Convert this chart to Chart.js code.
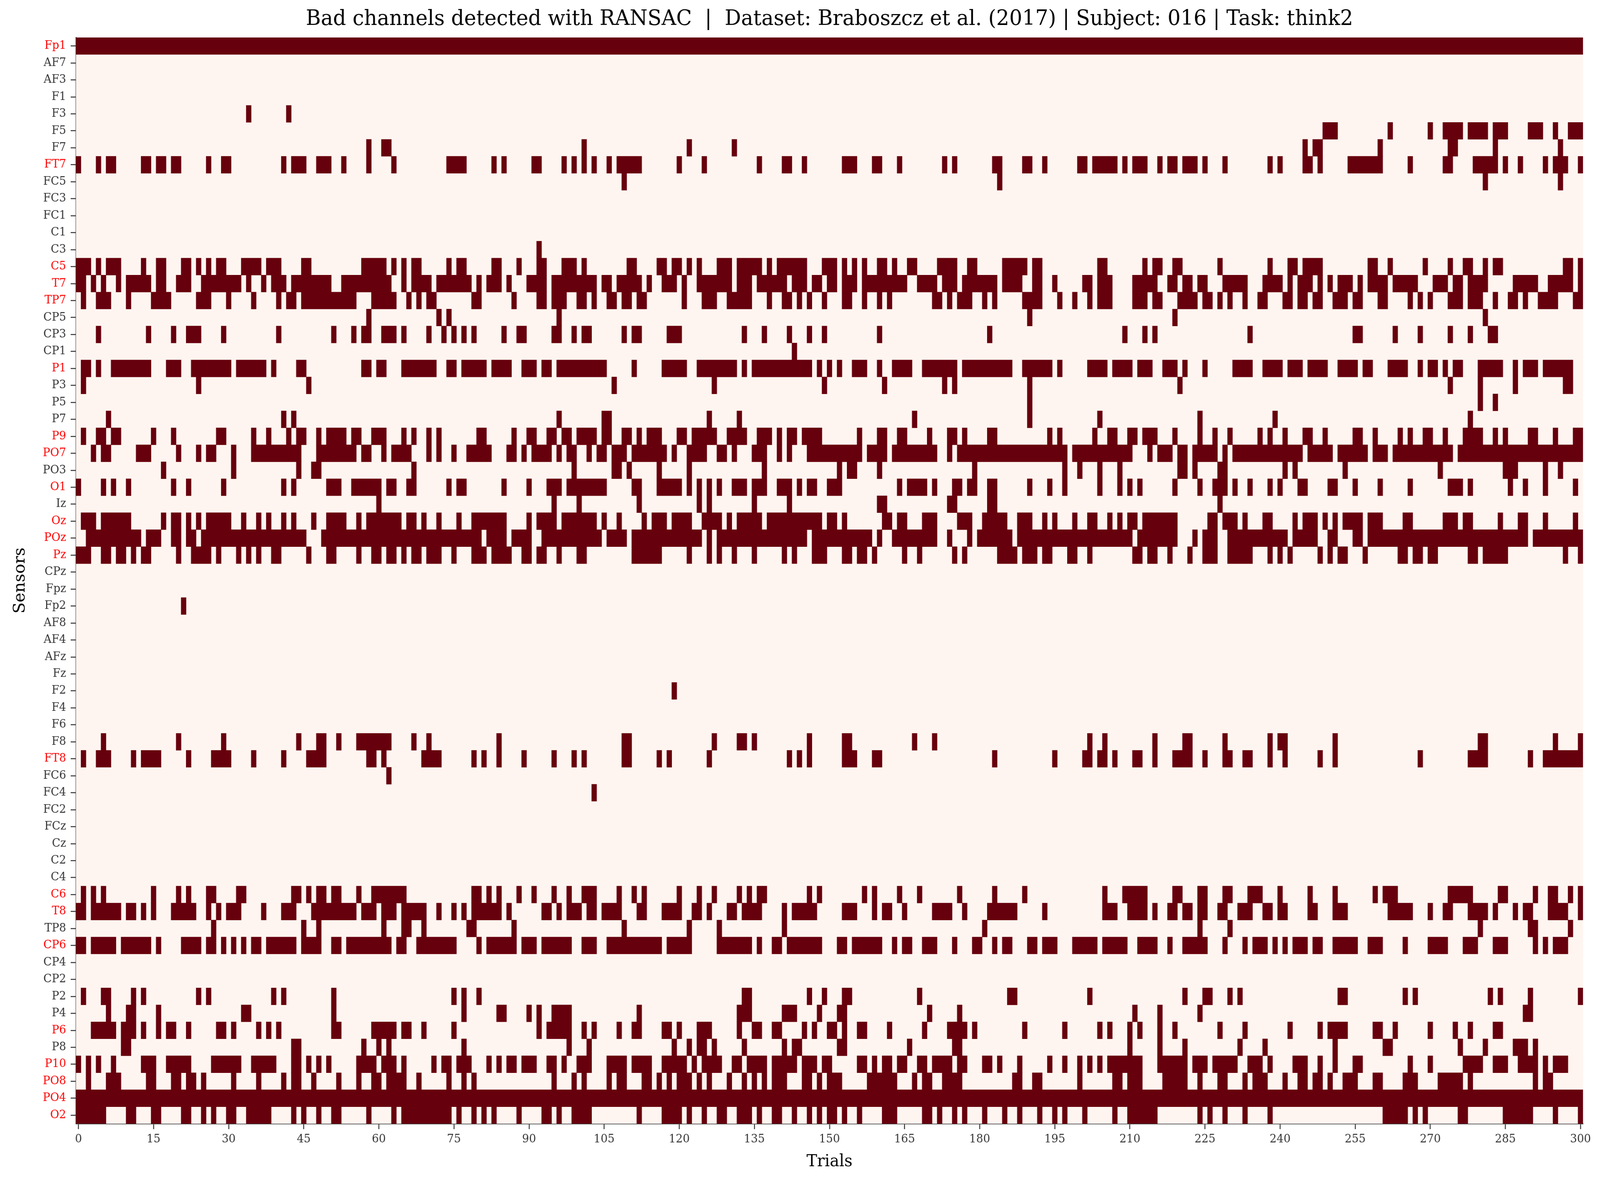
<!DOCTYPE html>
<html>
<head>
<meta charset="utf-8">
<script src="https://cdn.jsdelivr.net/npm/chart.js"></script>
<style>
  html, body { margin: 0; padding: 0; background: #ffffff; overflow: hidden; }
  canvas { display: block; }
</style>
</head>
<body>
<canvas id="badChart" width="4234" height="3034" style="width:100vw;height:100vh"></canvas>
<script>
// sensors, top to bottom
const sensors = ['Fp1','AF7','AF3','F1','F3','F5','F7','FT7','FC5','FC3','FC1','C1','C3','C5','T7','TP7',
  'CP5','CP3','CP1','P1','P3','P5','P7','P9','PO7','PO3','O1','Iz','Oz','POz','Pz','CPz',
  'Fpz','Fp2','AF8','AF4','AFz','Fz','F2','F4','F6','F8','FT8','FC6','FC4','FC2','FCz','Cz',
  'C2','C4','C6','T8','TP8','CP6','CP4','CP2','P2','P4','P6','P8','P10','PO8','PO4','O2'];

// channels marked bad (red tick labels)
const flaggedSensors = ['Fp1','FT7','C5','T7','TP7','P1','P9','PO7','O1','Oz','POz','Pz',
  'FT8','C6','T8','CP6','P6','P10','PO8','PO4','O2'];

// trials flagged bad for each sensor, same order as sensors ("a-b" = run of trials)
const badTrialRuns = [
  '0-300',                                   // Fp1
  '', '', '',                                // AF7 AF3 F1
  '34 42',                                   // F3
  '249-251 262 270 273-276 278-281 283-285 290-292 295 298-300', // F5
  '58 61-62 101 122 131 245 247-248 260 274-275 283 296',         // F7
  '0 4 6-7 13-14 16-17 19-20 26 29-30 41 43-45 48-50 53 58 63 74-77 83 85 91-92 97 99 101 103 106 108-112 120 125 136 141-142 145 153-155 159-160 164 173 175 183-184 189-190 193 200-201 203-207 209 211-213 216 218-219 221-223 225 229 238 240 245-246 248 254-260 266 273-274 279-283 285 288 293 295-297 300', // FT7
  '109 184 281 296',                         // FC5
  '', '', '',                                // FC3 FC1 C1
  '92',                                      // C3
  '0-2 4 6-8 13 16-17 21-22 24 26 28-29 33-36 38-40 45-46 57-61 63 65 67-68 74 76-77 83-84 88 92-93 97-99 101 110-111 116-117 119-120 122 124 128-130 132-136 138 140-145 149-151 153 155 157 160-161 163 166-167 172-175 178-179 185-189 191-192 204-205 213 215-216 219-220 228 238 242-243 245-248 258-259 262 269 274 277-278 281 283-284 297-298 300', // C5
  '0-1 3 5 8 10-14 16-17 20-22 25-32 34 37 39-41 43-50 53-62 65 67-70 72-78 80 82-84 86 90-93 95-103 105-106 108-112 114 117-119 121 124-130 132-134 136-141 143-145 147-148 150-151 153-155 157-165 168-171 173-175 177-183 185-188 191-192 195 201-202 204-206 211-215 218-219 221-222 224-225 229-233 237-240 242 244-246 248 250 252-254 256 258-261 263-267 271-273 275-276 278-281 287-291 294-298 300', // T7
  '1 4-6 10 15-18 24-26 30 35 40 42-43 45-55 59-63 66 68 70-71 79-80 87 92-93 95-97 100-101 103 106-107 109-110 112-113 121 125-127 130-134 138 141-142 144 146 149 153-154 157 160 162 171-172 174 176-178 181 183 189-192 196 199 202 204-206 211-213 215-216 220-223 225-226 228 230 233 236-237 241-242 244-245 247-248 251-253 255-256 260-261 266 268 270 274-276 278-280 283 286-287 289 292-295 299-300', // TP7
  '58 72 74 96 190 219 281',                 // CP5
  '4 14 19 22-24 29 40 51 55 57-58 61-63 65 70 73 75 77 79 85 88-89 95-96 99 101-102 109 111-112 118-120 133 137 142 146 149 160 182 209 213 215 234 255-256 263 268 274 278 282-283', // CP3
  '143',                                     // CP1
  '1-2 4 7-14 18-20 23-30 32-37 39 44-45 57-58 60-61 65-71 74-75 77-81 83-86 89-91 93-94 96-105 111 117-121 124-131 133 135-146 148 150 152 155-157 160 163-166 169-175 177-186 189-194 196 202-205 207-210 212-214 217-219 221 225 231-234 237-240 242-244 246-249 252-255 257-258 262-265 268 270-271 273 275-276 280-284 287 289-291 293-298', // P1
  '1 24 46 107 127 149 161 173 175 190 220 274 280 287 297-298', // P3
  '190 280 283',                             // P5
  '6 41 43 96 105-106 126 132 167 190 204 224 239 278', // P7
  '1 4-5 7-8 15 19 28-29 35 38 42 44-45 48 50-53 55-56 59-61 65 67 70 72 80-81 87 90-91 94-95 97-98 100-103 105-106 109-110 112 114-116 120-121 123-127 130-133 136-138 140 142-143 145-148 156 160-161 164-165 170 174-175 177 182-183 194 196 203 206-207 210-211 213-215 219 224 227 230 236 238 241 245-246 249 255-256 259 264 266 269-270 273 277-280 283 285 290-291 295 299-300', // P9
  '3 5-6 12-14 20 24 26-27 31 35-44 48-55 57-58 61 63-66 70 72 75 78-82 86-87 89 91-94 96 98-99 102 104-105 107-109 111-117 119 122-125 128-129 131 135-137 140 142 146-156 158-161 163-171 174 176-197 199-210 214 216-218 220-221 223-227 229 231-244 246-250 252-257 259-261 263-274 276-300', // PO7
  '17 31 44 47-48 67 99 107-108 110 116 122 137 152 154-155 160 179 197 200 204 208 220-221 223 228-229 241 243 253 272 285-287 293 296', // PO3
  '0 5 7 10 19 22 29 41 43 50-52 55-60 62-63 66-67 74 76-77 85 90 94-96 98-105 111-112 116-120 122 124 126 128 131-133 135-137 140-142 144 146-147 150-152 164 166-169 171 175-176 178-179 182-183 190 194 197 204 208 210 212 219 224 227-229 231 234 238 240 244-245 250-251 255 260 266 274-276 278 286 289 293 299', // O1
  '60 95 100 112 124 126 135 142 160-161 174-175 182-183 228', // Iz
  '1-3 5-10 17 19-20 22 24 26-30 33 36 38 41 43 47 50-53 56 58-64 66-67 69 72 76 79-85 90 92-95 97-103 105 108 113 115-117 119-122 125-128 130 132-136 138-148 150-151 153 161-162 164-165 169-171 176-178 181-185 188-190 193 195 199 202-203 206 208 210-211 213-219 226-227 229-231 233 237-238 243 245-247 249 251 253-256 258-260 265-266 273-275 277-278 284 288-289 293 299', // Oz
  '2-12 14-16 19-20 22-23 25-45 49-80 82-85 87-90 93-104 106-109 111-124 126 128-145 147-158 160 163-171 174 178 180-186 188-210 212-219 223 225-227 230-241 243-247 250-251 255-256 258-289 291-300', // POz
  '0-2 5-6 8-9 11 13-14 20 23-26 28 32 34 36 39-40 46 50-51 56 59-60 62-63 65 67-68 70-72 75 79-81 83-86 89-90 92-93 96 100-101 111-116 122 126 128 131 135 141 143 147-149 153-154 156-157 159 165 168 175 177 184-187 189-191 193-194 198-199 202 211-212 214-215 218 222 225-227 230-234 238 240 242 248 250 252-253 257 264-265 267-268 270-271 278-279 281-285 297 300', // Pz
  '', '',                                    // CPz Fpz
  '21',                                      // Fp2
  '', '', '', '',                            // AF8 AF4 AFz Fz
  '119',                                     // F2
  '', '',                                    // F4 F6
  '5 20 29 44 48-49 52 56-62 67 70 84 109-110 127 132-133 135 146 153-154 167 171 202 205 215 221-222 229 238 240-241 251 280-281 295 300', // F8
  '1 4-6 11 13-16 22 27-30 35 41 46-49 58-59 61 69-72 79 81 84 89 95 99 101 109-110 116 118 126 142 144 146 153-155 159-160 183 195 201-202 204-205 207 211-212 215 219-222 225 229-230 233-234 238 241 248 251 268 278-281 290 293-300', // FT8
  '62',                                      // FC6
  '103',                                     // FC4
  '', '', '', '', '',                        // FC2 FCz Cz C2 C4
  '1 3 5 15 20 22 26-27 32-33 43-44 46 48-49 51-52 56 59-65 79-80 82 84 88 91 95 98 101-103 108 111 113 120 124 127 132 134 136-137 146 148 157 159 164 168 176 183 189 205 209-213 219-220 224-225 229-230 234-236 240 246 251 259 261-263 274-278 284-285 291 294-295 298 300', // C6
  '0-1 3-8 10-11 13 15 19-23 26 28 30-32 37 41-43 47-55 57-59 61-63 65-69 72 75 77 79-84 86 93-94 96 98-100 102-103 105-108 112-113 117-120 123-124 126 130-131 133-136 141 143-147 153-155 159 161-162 165 171-174 177 182-187 193 205-207 210-213 215 218-219 221-222 224-225 228-229 232-234 237-238 240-241 246-247 251-253 262-266 270 273-274 278-281 283 287 289-290 294-297 300', // T8
  '27 45 48 61 65-66 69 78-79 87 109 122 128 141 181 224 230 280 290-291 298', // TP8
  '0-1 3-7 9-14 16 21-24 26-27 29 31 33 35-36 38-43 45-48 51-52 54-62 64-65 68-75 80 82-87 89-91 93-98 101-103 106-116 118-122 128-134 136 139-140 142-148 152-153 155-160 163 165-166 169-171 175 179-180 183 185-186 190-191 193-195 199-203 205-209 212-215 218 221-225 229 233 235-237 239 241 243-245 247-248 251-255 258-260 265 270-273 277-279 283-285 291 293 295-297', // CP6
  '', '',                                    // CP4 CP2
  '1 5-6 11 13 24 26 39 41 51 75 77 80 133-134 146 149 153-154 168 186-187 202 221 225-226 230 232 252-253 265 267 282 284 290 300', // P2
  '6 10-11 16 33-34 51 77 84-85 90 92 95-98 112 132-134 141-143 148 152-153 170 176 211 216 224 289-290', // P4
  '3-7 9-11 13 16 18-19 22 28-29 31 36 38 40 51-52 59-63 65-66 69 75 92 94-98 101 103 108 111-112 117-118 120 124-126 132 135-136 139-140 145 147 150-151 153 156-157 162 169 174-177 179 189 197 204 206 210 212 216 219 228 233 242 248 250-253 259-260 263 270 275 278 283-284', // P6
  '9-10 43-44 57 60 62 77 98 102 119 122 124-125 127 133 141 143-144 152-153 166 175-176 210 216 221 232 237 251 261-262 276 281 287-289 291', // P8
  '0 2 4 7 13-15 18-22 27-32 35-39 43-44 46 48 50 56-59 61-63 65 71 73-74 76-78 82 84 86-87 89-91 94-95 97 100-102 106-109 111-114 117-121 123 125-128 131-132 134-137 139-143 145-147 149-150 156-157 159 161-162 164-165 168-169 171-174 176-177 181-182 184 188 194 197 200 202 204 206-212 216-221 223-225 227-231 234-236 238 243-245 248 251 255-256 266 270 277-280 283-285 288-291 293 295-297', // P10
  '2 6-8 14-15 19-20 22-23 25 31 36 41 43-44 47 52 56 59-60 62-65 68 74 77 79 95 99 101 106 108-109 113-114 116 118 120-122 124 126 130 133 135 137 139-141 145-146 148 150-152 158-163 167 169-170 173-176 187-188 191-192 200 207-208 210-212 217-221 224 228-229 233 235-237 241 244-245 247-248 250 253-255 259-260 265-267 272-276 278 291 293-294', // PO8
  '0-300',                                   // PO4
  '0-5 10-11 15-16 21-22 25 27 30-31 34-38 43 45 48 51-52 58 63 65-74 76 79 81 83 88 93-94 96 99-102 112 117-120 122 125 128-129 132-134 136 139-140 143 146 148 150-151 153 156 161-163 169-170 172 175 177 181 185 188 192 195 197 201 207 210-215 224 226 229 233 238 261-265 267 269 276-277 285-290 295 300' // O2
];

const trialTicks = [0, 15, 30, 45, 60, 75, 90, 105, 120, 135, 150, 165, 180, 195, 210, 225, 240, 255, 270, 285, 300];
const nTrials = 301;
const titleText = 'Bad channels detected with RANSAC  |  Dataset: Braboszcz et al. (2017) | Subject: 016 | Task: think2';

// turn the runs into floating horizontal bars, one per run
const bars = [];
badTrialRuns.forEach((runs, i) => {
  runs.split(' ').filter(r => r.length > 0).forEach(run => {
    const parts = run.split('-').map(Number);
    const first = parts[0];
    const last = parts.length > 1 ? parts[1] : parts[0];
    bars.push({ y: sensors[i], x: [first - 0.5, last + 0.5] });
  });
});

const FONT = 'DejaVu Serif';
const AXIS_COLOR = '#333333';

// heatmap background and title (centred over the axes)
const heatFrame = {
  id: 'heatFrame',
  beforeDatasetsDraw(chart) {
    const { ctx, chartArea: a } = chart;
    ctx.save();
    ctx.fillStyle = '#fff5f0';
    ctx.fillRect(a.left, a.top, a.right - a.left, a.bottom - a.top);
    ctx.restore();
  },
  afterDraw(chart) {
    const { ctx, chartArea: a } = chart;
    ctx.save();
    ctx.fillStyle = '#000000';
    ctx.font = '54px "' + FONT + '"';
    ctx.textAlign = 'center';
    ctx.textBaseline = 'middle';
    ctx.fillText(titleText, (a.left + a.right) / 2, 50);
    ctx.restore();
  }
};

const ctx = document.getElementById('badChart').getContext('2d');
new Chart(ctx, {
  type: 'bar',
  data: {
    labels: sensors,
    datasets: [{
      data: bars,
      backgroundColor: '#67000d',
      borderWidth: 0,
      barPercentage: 1.0,
      categoryPercentage: 1.0
    }]
  },
  options: {
    indexAxis: 'y',
    responsive: false,
    animation: false,
    devicePixelRatio: 1,
    events: [],
    layout: { padding: { left: 0, right: 4234 - 4189, top: 96, bottom: 0 } },
    scales: {
      x: {
        type: 'linear',
        min: -0.5,
        max: nTrials - 0.5,
        afterBuildTicks: function (scale) { scale.ticks = trialTicks.map(v => ({ value: v })); },
        afterFit: function (scale) { scale.height = 3034 - 2877; },
        grid: { display: true, drawOnChartArea: false, tickLength: 14, tickWidth: 2.5, tickColor: AXIS_COLOR },
        border: { display: true, color: AXIS_COLOR, width: 2.5 },
        ticks: {
          autoSkip: false, maxRotation: 0, minRotation: 0, padding: 9,
          font: { family: FONT, size: 29 }, color: AXIS_COLOR,
          callback: v => String(v)
        },
        title: { display: true, text: 'Trials', color: '#000000', font: { family: FONT, size: 42 }, padding: { top: 0, bottom: 34 } }
      },
      y: {
        type: 'category',
        offset: true,
        afterFit: function (scale) { scale.width = 201; },
        grid: { display: true, drawOnChartArea: false, offset: false, tickLength: 14, tickWidth: 2.5, tickColor: AXIS_COLOR },
        border: { display: true, color: AXIS_COLOR, width: 2.5 },
        ticks: {
          autoSkip: false, padding: 12,
          font: { family: FONT, size: 29 },
          color: c => flaggedSensors.includes(sensors[c.index]) ? '#ff0000' : AXIS_COLOR
        },
        title: { display: true, text: 'Sensors', color: '#000000', font: { family: FONT, size: 42 }, padding: { top: 29, bottom: 0 } }
      }
    },
    plugins: {
      legend: { display: false },
      tooltip: { enabled: false },
      title: { display: false }
    }
  },
  plugins: [heatFrame]
});
</script>
</body>
</html>
